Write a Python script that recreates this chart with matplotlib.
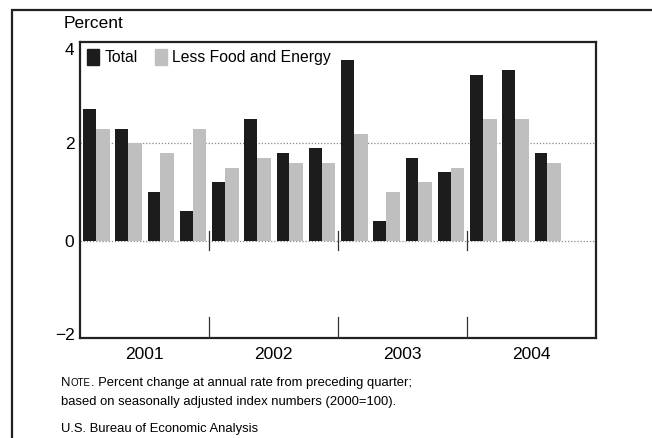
import matplotlib
matplotlib.use("Agg")
import matplotlib.pyplot as plt
from matplotlib.patches import Rectangle
from matplotlib.transforms import ScaledTranslation

years = ["2001", "2002", "2003", "2004"]
quarters = ["2001Q1", "2001Q2", "2001Q3", "2001Q4",
            "2002Q1", "2002Q2", "2002Q3", "2002Q4",
            "2003Q1", "2003Q2", "2003Q3", "2003Q4",
            "2004Q1", "2004Q2", "2004Q3"]
total = [2.7, 2.3, 1.0, 0.6,
         1.2, 2.5, 1.8, 1.9,
         3.7, 0.4, 1.7, 1.4,
         3.4, 3.5, 1.8]
less_food_energy = [2.3, 2.0, 1.8, 2.3,
                    1.5, 1.7, 1.6, 1.6,
                    2.2, 1.0, 1.2, 1.5,
                    2.5, 2.5, 1.6]
y_ticks = [-2, 0, 2, 4]
y_tick_labels = ["\u22122", "0", "2", "4"]

FAM = ["Liberation Sans", "DejaVu Sans"]
plt.rcParams["font.family"] = FAM

DARK = "#1c1c1c"
LIGHT = "#bfbfbf"

fig = plt.figure(figsize=(6.52, 4.38), dpi=100)
fig.patch.set_facecolor("white")

# outer frame (extends past right and bottom edge)
fig.add_artist(Rectangle((12 / 652, -0.05), 1.2, 1 - 10 / 438 + 0.05,
                         transform=fig.transFigure, fill=False,
                         edgecolor="#222222", linewidth=1.6))

ax = fig.add_axes([80 / 652, 1 - 338 / 438, 516 / 652, (338 - 42) / 438])
x = list(range(len(quarters)))
wd = 0.39
wl = 0.43
ax.bar([i - wd / 2 - 0.01 for i in x], total, width=wd, color=DARK, zorder=3)
ax.bar([i + wl / 2 - 0.01 for i in x], less_food_energy, width=wl, color=LIGHT, zorder=3)

ax.set_xlim(-0.5, 15.5)
ax.set_ylim(-2, 4.08)

for yv in [0, 2]:
    ax.axhline(yv, color="#888888", linestyle=(0, (1, 1.5)), linewidth=0.9, zorder=1)

# year separators
for s in [3.5, 7.5, 11.5]:
    ax.plot([s, s], [-0.2, 0.2], color="#333333", linewidth=0.9, zorder=4)
    ax.plot([s, s], [-2, -1.57], color="#333333", linewidth=0.9, zorder=4)

ax.set_xticks([])
ax.set_yticks(y_ticks)
ax.set_yticklabels(y_tick_labels, fontsize=12.5)
ax.tick_params(axis="y", length=0, pad=4)
offs = {"\u22122": 3 / 72, "4": -2 / 72}
for lab in ax.get_yticklabels():
    dy = offs.get(lab.get_text(), 0)
    if dy:
        lab.set_transform(lab.get_transform() + ScaledTranslation(0, dy, fig.dpi_scale_trans))
for sp in ax.spines.values():
    sp.set_linewidth(1.6)
    sp.set_color("#222222")

for k, yr in enumerate(years):
    ax.text(1.5 + 4 * k, -2.19, yr, ha="center", va="top", fontsize=12.5)

# legend
handles = [Rectangle((0, 0), 1, 1, color=DARK), Rectangle((0, 0), 1, 1, color=LIGHT)]
leg = ax.legend(handles, ["Total", "Less Food and Energy"], loc="upper left",
                ncol=2, frameon=False, fontsize=11.3, handlelength=0.75,
                handleheight=1.2, handletextpad=0.35, columnspacing=1.1,
                borderaxespad=0.35, borderpad=0.1)

fig.text(64 / 652, 1 - 23 / 438, "Percent", fontsize=12.5, va="center", ha="left")

fs = 9.4
renderer = fig.canvas.get_renderer()
x0 = 61 / 652
pieces = [("N", fs, 0.0), ("OTE", 7.0, 0.0),
          (". Percent change at annual rate from preceding quarter;", fs, 0.0)]
for txt, size, dy in pieces:
    t = fig.text(x0, 1 - 386 / 438 + dy, txt, fontsize=size, va="baseline", ha="left")
    bb = t.get_window_extent(renderer)
    x0 = bb.x1 / fig.bbox.width + 0.3 / 652
fig.text(61 / 652, 1 - 405 / 438, "based on seasonally adjusted index numbers (2000=100).",
         fontsize=fs, va="baseline", ha="left")
fig.text(61 / 652, 1 - 432 / 438, "U.S. Bureau of Economic Analysis",
         fontsize=fs, va="baseline", ha="left")

fig.savefig("out.png", dpi=100, facecolor="white")
